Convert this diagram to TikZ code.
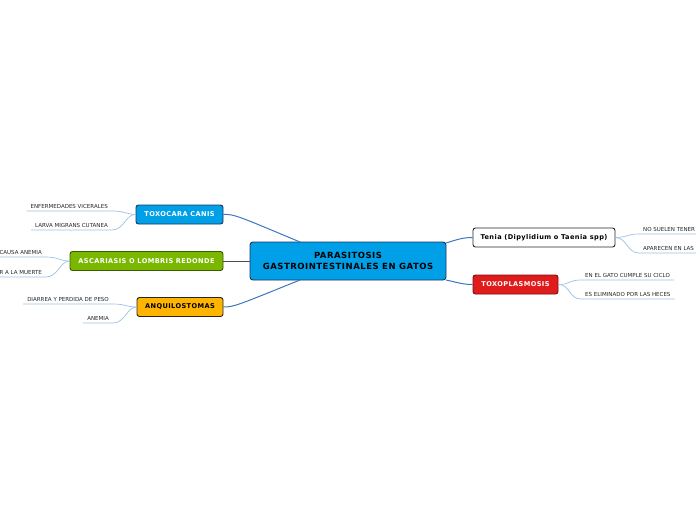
\documentclass[tikz,border=0pt]{standalone}
\usepackage{fontspec}
\setmainfont{DejaVu Sans}
\newfontfamily\spacedfont[LetterSpace=6]{DejaVu Sans}
\usetikzlibrary{calc}
\definecolor{cyanbox}{HTML}{00A0E9}
\definecolor{navy}{HTML}{1C3557}
\definecolor{greenbox}{HTML}{7AB800}
\definecolor{greenedge}{HTML}{3D5C00}
\definecolor{orangebox}{HTML}{FFB400}
\definecolor{redbox}{HTML}{E01B1B}
\definecolor{rededge}{HTML}{7A0E0E}
\definecolor{branch}{HTML}{3C78C0}
\definecolor{leafline}{HTML}{9CC2E5}
\tikzset{
  mainbox/.style={draw=navy, line width=0.9pt, fill=cyanbox, rounded corners=3pt,
    minimum width=196pt, minimum height=38pt, align=center, inner sep=0pt,
    font=\spacedfont\fontsize{8.5}{11}\selectfont\bfseries},
  subbox/.style={line width=0.9pt, rounded corners=2.5pt, minimum height=19pt, inner sep=0pt,
    font=\spacedfont\fontsize{6.6}{8}\selectfont\bfseries},
  leaf/.style={font=\fontsize{5.5}{6.5}\selectfont, text=black!85, inner xsep=4pt, inner ysep=2.3pt,
    text height=4pt, text depth=0pt},
  leafedge/.style={draw=leafline, line width=0.7pt},
  branchedge/.style={draw=branch, line width=1pt},
}
\begin{document}
\begin{tikzpicture}[x=1pt,y=-1pt]
\useasboundingbox (0,0) rectangle (696,520);
\fill[white] (0,0) rectangle (696,520);
\clip (0,0) rectangle (696,520);

% central node
\node[mainbox] (c) at (348,261) {PARASITOSIS\\GASTROINTESTINALES EN GATOS};

% child nodes
\node[subbox, draw=navy, fill=cyanbox, text=white, minimum width=87pt] (tox) at (179.5,214.5) {TOXOCARA CANIS};
\node[subbox, draw=greenedge, fill=greenbox, text=white, minimum width=153pt] (asc) at (146.5,261) {ASCARIASIS O LOMBRIS REDONDE};
\node[subbox, draw=black!85, fill=orangebox, text=black, minimum width=86pt] (anq) at (180,307) {ANQUILOSTOMAS};
\node[subbox, draw=black!85, fill=white, text=black, minimum width=142pt] (ten) at (544,237.5) {Tenia (Dipylidium o Taenia spp)};
\node[subbox, draw=rededge, fill=redbox, text=white, minimum width=85pt] (txp) at (515.5,284.5) {TOXOPLASMOSIS};

% attachment points on central node
\coordinate (cTox) at (300,242);
\coordinate (cAnq) at (300,280);
\coordinate (cTen) at (446,243);
\coordinate (cTxp) at (446,280);

% branches from center
\draw[branchedge] (tox.east) .. controls (234,214) and (238,216) .. (cTox);
\draw[draw=black!70, line width=0.8pt] (asc.east) -- (c.west);
\draw[branchedge] (anq.east) .. controls (234,307) and (238,305) .. (cAnq);
\draw[branchedge] (cTen) .. controls (456,240) and (462,237.5) .. (ten.west);
\draw[branchedge] (cTxp) .. controls (456,282) and (462,284.5) .. (txp.west);

% leaves of TOXOCARA
\node[leaf, anchor=south east] (t1) at (112,211) {ENFERMEDADES VICERALES};
\node[leaf, anchor=south east] (t2) at (112,230) {LARVA MIGRANS CUTANEA};
\draw[leafedge] (tox.west) .. controls (126,214) and (124,211) .. (t1.south east) -- (t1.south west);
\draw[leafedge] (tox.west) .. controls (126,214) and (124,230) .. (t2.south east) -- (t2.south west);

% leaves of ASCARIASIS
\node[leaf, anchor=south east] (a1) at (46,257) {CAUSA ANEMIA};
\node[leaf, anchor=south east] (a2) at (46,277) {R A LA MUERTE};
\draw[leafedge] (asc.west) .. controls (60,261) and (58,257) .. (a1.south east) -- (a1.south west);
\draw[leafedge] (asc.west) .. controls (60,261) and (58,277) .. (a2.south east) -- (a2.south west);

% leaves of ANQUILOSTOMAS
\node[leaf, anchor=south east] (q1) at (113,304) {DIARREA Y PERDIDA DE PESO};
\node[leaf, anchor=south east] (q2) at (113,323) {ANEMIA};
\draw[leafedge] (anq.west) .. controls (127,307) and (125,304) .. (q1.south east) -- (q1.south west);
\draw[leafedge] (anq.west) .. controls (127,307) and (125,323) .. (q2.south east) -- (q2.south west);

% leaves of Tenia
\node[leaf, anchor=south west] (n1) at (639,234) {NO SUELEN TENER};
\node[leaf, anchor=south west] (n2) at (639,253) {APARECEN EN LAS};
\draw[leafedge] (ten.east) .. controls (627,237.5) and (627,234) .. (n1.south west) -- (n1.south east);
\draw[leafedge] (ten.east) .. controls (627,237.5) and (627,253) .. (n2.south west) -- (n2.south east);

% leaves of TOXOPLASMOSIS
\node[leaf, anchor=south west] (x1) at (581,280) {EN EL GATO CUMPLE SU CICLO};
\node[leaf, anchor=south west] (x2) at (581,299) {ES ELIMINADO POR LAS HECES};
\draw[leafedge] (txp.east) .. controls (570,284.5) and (569,280) .. (x1.south west) -- (x1.south east);
\draw[leafedge] (txp.east) .. controls (570,284.5) and (569,299) .. (x2.south west) -- (x2.south east);
\end{tikzpicture}
\end{document}
